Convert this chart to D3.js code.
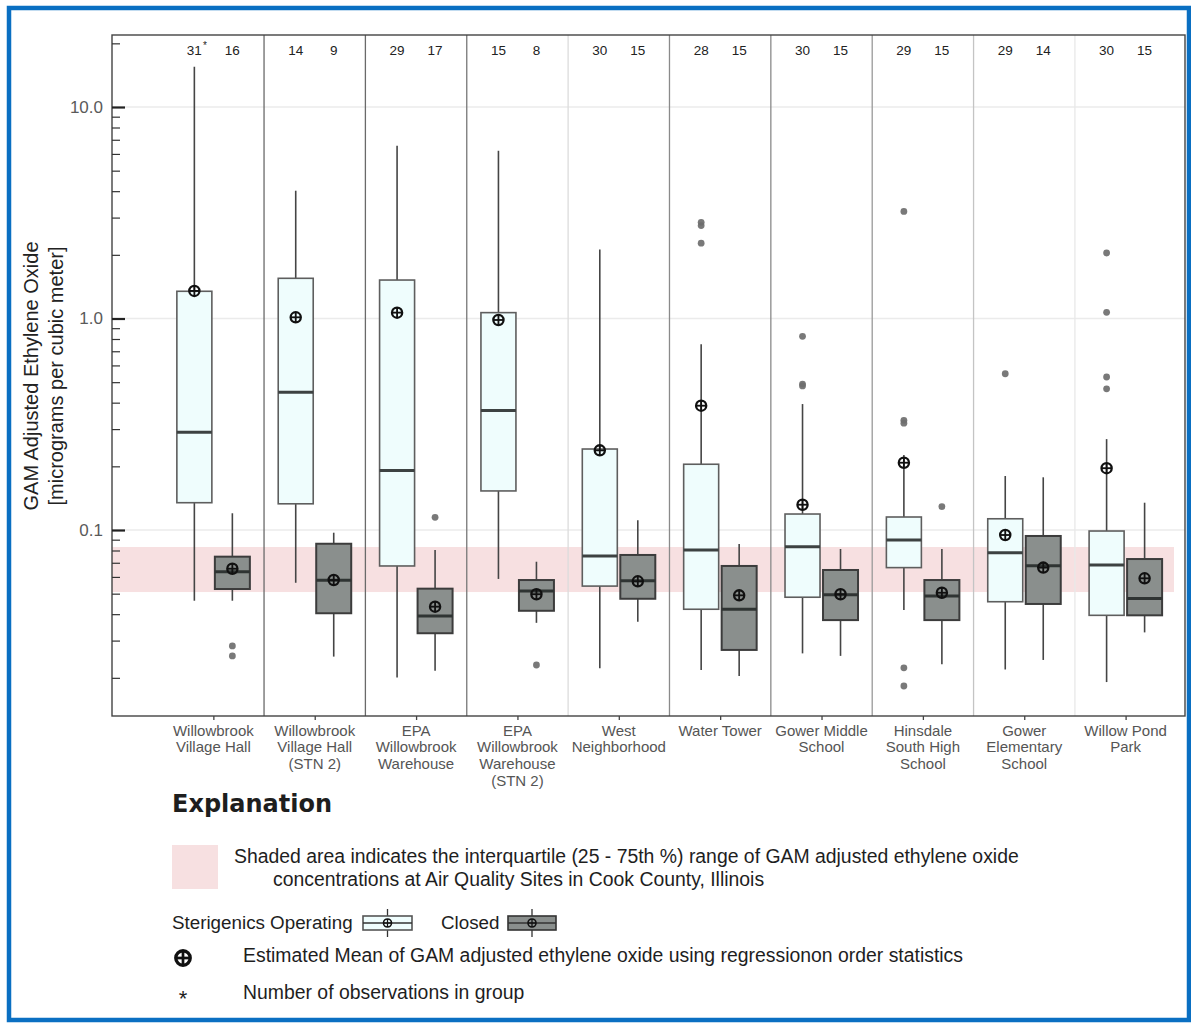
<!DOCTYPE html>
<html>
<head>
<meta charset="utf-8">
<script src="https://cdn.jsdelivr.net/npm/d3@7"></script>
<style>
  body { margin: 0; background: #fff; }
  svg { display: block; font-family: "Liberation Sans", Arial, sans-serif; }
</style>
</head>
<body>
<svg id="chart" width="1191" height="1025"></svg>
<script>
// Monitoring sites (multi-line labels)
const sites = [
  ["Willowbrook", "Village Hall"],
  ["Willowbrook", "Village Hall", "(STN 2)"],
  ["EPA", "Willowbrook", "Warehouse"],
  ["EPA", "Willowbrook", "Warehouse", "(STN 2)"],
  ["West", "Neighborhood"],
  ["Water Tower"],
  ["Gower Middle", "School"],
  ["Hinsdale", "South High", "School"],
  ["Gower", "Elementary", "School"],
  ["Willow Pond", "Park"]
];

// Number of observations per group
const countOperating = [31, 14, 29, 15, 30, 28, 30, 29, 29, 30];
const countClosed    = [16,  9, 17,  8, 15, 15, 15, 15, 14, 15];

// Sterigenics operating: box statistics (micrograms per cubic meter)
const opLow    = [0.0463, 0.0563, 0.0201, 0.0587, 0.0222, 0.0218, 0.0261, 0.0419, 0.0219, 0.0191];
const opQ1     = [0.1346, 0.133, 0.0676, 0.153, 0.0543, 0.0422, 0.0481, 0.0664, 0.0458, 0.0395];
const opMedian = [0.290, 0.448, 0.191, 0.367, 0.0753, 0.0805, 0.0834, 0.0897, 0.0781, 0.0684];
const opQ3     = [1.345, 1.549, 1.52, 1.066, 0.2415, 0.2046, 0.119, 0.1152, 0.113, 0.0989];
const opHigh   = [15.5, 4.02, 6.56, 6.21, 2.12, 0.755, 0.394, 0.226, 0.18, 0.269];
const opMean   = [1.35, 1.013, 1.066, 0.984, 0.238, 0.387, 0.1317, 0.208, 0.0947, 0.196];
const opOutliers = [[], [], [], [], [], [2.85, 2.75, 2.27], [0.824, 0.49, 0.48],
                    [3.21, 0.33, 0.32, 0.0223, 0.0183], [0.548], [2.04, 1.07, 0.529, 0.465]];

// Sterigenics closed: box statistics
const clLow    = [0.0463, 0.0252, 0.0216, 0.0364, 0.0368, 0.0204, 0.0254, 0.0232, 0.0243, 0.0328];
const clQ1     = [0.0526, 0.0404, 0.0325, 0.0415, 0.0473, 0.0271, 0.0375, 0.0375, 0.0447, 0.0395];
const clMedian = [0.0635, 0.0579, 0.0392, 0.0515, 0.0575, 0.0422, 0.0494, 0.0488, 0.0678, 0.0475];
const clQ3     = [0.0748, 0.0861, 0.0528, 0.0580, 0.0762, 0.0676, 0.0647, 0.0580, 0.0937, 0.0729];
const clHigh   = [0.120, 0.0971, 0.0804, 0.0708, 0.1111, 0.0859, 0.0813, 0.0813, 0.1775, 0.1346];
const clMean   = [0.0656, 0.058, 0.0434, 0.0497, 0.0572, 0.0491, 0.0497, 0.0505, 0.0664, 0.0591];
const clOutliers = [[0.0283, 0.0254], [], [0.1148], [0.0230], [], [], [], [0.1289], [], []];

// Cook County interquartile range (25th - 75th percentile)
const cookCountyIQR = [0.0509, 0.0831];

// Y-axis tick labels
const majorTicks = [0.1, 1, 10];

// ---------------------------------------------------------------
const svg = d3.select("#chart");
const plot = { left: 112, right: 1185, top: 35, bottom: 716 };

// outer blue frame
svg.append("rect")
  .attr("x", 9).attr("y", 8).attr("width", 1180).attr("height", 1012)
  .attr("fill", "none").attr("stroke", "#0a6fc2").attr("stroke-width", 4.5);

const x = d3.scaleLinear().domain([-1, 9.586]).range([plot.left, plot.right]);
const y = d3.scaleLog().domain([0.0132, 21.9]).range([plot.bottom, plot.top]);

const boxW = 35, boxOff = 19;

// grid lines
svg.append("g").selectAll("line").data(majorTicks).join("line")
  .attr("x1", plot.left).attr("x2", plot.right)
  .attr("y1", d => y(d)).attr("y2", d => y(d))
  .attr("stroke", "#ebebeb").attr("stroke-width", 1.5);

// shaded Cook County band
svg.append("rect")
  .attr("x", plot.left).attr("width", plot.right - 11 - plot.left)
  .attr("y", y(cookCountyIQR[1]))
  .attr("height", y(cookCountyIQR[0]) - y(cookCountyIQR[1]))
  .attr("fill", "#f7e0e1");

// panel dividers between sites
const dividerColors = ["#6a6a6a", "#6a6a6a", "#777", "#dcdcdc", "#8a8a8a", "#8a8a8a", "#999", "#c4c4c4", "#e8e8e8"];
svg.append("g").selectAll("line").data(d3.range(9)).join("line")
  .attr("x1", i => x(i + 0.5)).attr("x2", i => x(i + 0.5))
  .attr("y1", plot.top).attr("y2", plot.bottom)
  .attr("stroke", (i) => dividerColors[i]).attr("stroke-width", 1.3);

// build per-box records
const groups = [];
sites.forEach((s, i) => {
  groups.push({ i, cx: x(i) - boxOff, low: opLow[i], q1: opQ1[i], med: opMedian[i], q3: opQ3[i],
    high: opHigh[i], mean: opMean[i], out: opOutliers[i], closed: false });
  groups.push({ i, cx: x(i) + boxOff, low: clLow[i], q1: clQ1[i], med: clMedian[i], q3: clQ3[i],
    high: clHigh[i], mean: clMean[i], out: clOutliers[i], closed: true });
});

const gBox = svg.append("g");
// whiskers
gBox.selectAll(".wl").data(groups).join("line")
  .attr("x1", d => d.cx).attr("x2", d => d.cx)
  .attr("y1", d => y(d.low)).attr("y2", d => y(d.q1))
  .attr("stroke", "#454545").attr("stroke-width", 1.6);
gBox.selectAll(".wh").data(groups).join("line")
  .attr("x1", d => d.cx).attr("x2", d => d.cx)
  .attr("y1", d => y(d.q3)).attr("y2", d => y(d.high))
  .attr("stroke", "#454545").attr("stroke-width", 1.6);
// boxes
gBox.selectAll("rect").data(groups).join("rect")
  .attr("x", d => d.cx - boxW / 2).attr("width", boxW)
  .attr("y", d => y(d.q3)).attr("height", d => y(d.q1) - y(d.q3))
  .attr("fill", d => d.closed ? "#8a8f8d" : "#effdfd")
  .attr("stroke", d => d.closed ? "#3c3c3c" : "#5e5e5e")
  .attr("stroke-width", d => d.closed ? 2 : 1.6);
// medians
gBox.selectAll(".med").data(groups).join("line")
  .attr("x1", d => d.cx - boxW / 2).attr("x2", d => d.cx + boxW / 2)
  .attr("y1", d => y(d.med)).attr("y2", d => y(d.med))
  .attr("stroke", d => d.closed ? "#2f3433" : "#3d4242").attr("stroke-width", 3);

// outliers
const outPts = groups.flatMap(g => g.out.map(v => ({ cx: g.cx, v })));
svg.append("g").selectAll("circle").data(outPts).join("circle")
  .attr("cx", d => d.cx).attr("cy", d => y(d.v)).attr("r", 3.4)
  .attr("fill", "#6e6e6e").attr("opacity", 0.92);

// mean markers (circle with cross)
function meanMarker(sel, r, sw) {
  sel.append("circle").attr("r", r).attr("fill", "none").attr("stroke", "#111").attr("stroke-width", sw);
  sel.append("line").attr("x1", -r).attr("x2", r).attr("stroke", "#111").attr("stroke-width", sw * 0.8);
  sel.append("line").attr("y1", -r).attr("y2", r).attr("stroke", "#111").attr("stroke-width", sw * 0.8);
}
svg.append("g").selectAll("g").data(groups).join("g")
  .attr("transform", d => `translate(${d.cx},${y(d.mean)})`)
  .each(function () { meanMarker(d3.select(this), 5.1, 2.3); });

// plot frame
svg.append("rect")
  .attr("x", plot.left).attr("y", plot.top)
  .attr("width", plot.right - plot.left).attr("height", plot.bottom - plot.top)
  .attr("fill", "none").attr("stroke", "#444").attr("stroke-width", 1.4);

// y axis: minor ticks inside the frame
const minorTicks = [];
[0.01, 0.1, 1, 10].forEach(dec => { for (let k = 2; k <= 9; k++) minorTicks.push(k * dec); });
const minorInRange = minorTicks.filter(v => v >= y.domain()[0] && v <= y.domain()[1]);
const yMinor = svg.append("g").attr("transform", `translate(${plot.left},0)`)
  .call(d3.axisRight(y).tickValues(minorInRange).tickSize(8).tickFormat(""));
yMinor.select(".domain").remove();
yMinor.selectAll("line").attr("stroke", "#333").attr("stroke-width", 1.2);

const yMajor = svg.append("g").attr("transform", `translate(${plot.left},0)`)
  .call(d3.axisRight(y).tickValues(majorTicks).tickSize(13).tickFormat(""));
yMajor.select(".domain").remove();
yMajor.selectAll("line").attr("stroke", "#222").attr("stroke-width", 2.2);

const yLabels = svg.append("g").attr("transform", `translate(${plot.left},0)`)
  .call(d3.axisLeft(y).tickValues(majorTicks).tickSize(0).tickPadding(9).tickFormat(d3.format(".1f")));
yLabels.select(".domain").remove();
yLabels.selectAll("text").attr("font-size", 17).attr("fill", "#5a5a5a")
  .attr("font-family", '"Liberation Sans", Arial, sans-serif');

// x axis ticks
const xAxis = svg.append("g").attr("transform", `translate(0,${plot.bottom})`)
  .call(d3.axisBottom(x).tickValues(d3.range(sites.length)).tickSize(4).tickFormat(""));
xAxis.select(".domain").remove();
xAxis.selectAll("line").attr("stroke", "#444").attr("stroke-width", 1.3);

// x labels (multi-line)
const xl = svg.append("g").selectAll("text").data(sites).join("text")
  .attr("text-anchor", "middle").attr("font-size", 15).attr("fill", "#555");
xl.each(function (lines, i) {
  d3.select(this).selectAll("tspan").data(lines).join("tspan")
    .attr("x", x(i)).attr("y", (d, k) => 735.5 + k * 16.7).text(d => d);
});

// observation counts above each box
const countsG = svg.append("g").attr("font-size", 13.5).attr("fill", "#222").attr("text-anchor", "middle");
sites.forEach((s, i) => {
  countsG.append("text").attr("x", x(i) - boxOff).attr("y", 54.5).text(countOperating[i]);
  countsG.append("text").attr("x", x(i) + boxOff).attr("y", 54.5).text(countClosed[i]);
});
countsG.append("text").attr("x", x(0) - boxOff + 10.5).attr("y", 49).attr("font-size", 10).text("*");

// y axis title
const yt = svg.append("g").attr("font-size", 20).attr("fill", "#222").attr("text-anchor", "middle");
yt.append("text").attr("transform", "translate(38,376) rotate(-90)").text("GAM Adjusted Ethylene Oxide");
yt.append("text").attr("transform", "translate(63,376) rotate(-90)").text("[micrograms per cubic meter]");

// ---------------- Explanation ----------------
const lg = svg.append("g").attr("fill", "#1e1e1e");
lg.append("text").attr("x", 172).attr("y", 812)
  .attr("font-family", '"DejaVu Sans", sans-serif').attr("font-weight", "bold").attr("font-size", 24)
  .text("Explanation");

lg.append("rect").attr("x", 172).attr("y", 845).attr("width", 46).attr("height", 44).attr("fill", "#f7e0e1");
lg.append("text").attr("x", 234).attr("y", 863).attr("font-size", 19.4)
  .text("Shaded area indicates the interquartile (25 - 75th %) range of GAM adjusted ethylene oxide");
lg.append("text").attr("x", 273).attr("y", 886).attr("font-size", 19.4)
  .text("concentrations at Air Quality Sites in Cook County, Illinois");

lg.append("text").attr("x", 172).attr("y", 929).attr("font-size", 18.8).text("Sterigenics Operating");
lg.append("text").attr("x", 441).attr("y", 929).attr("font-size", 18.8).text("Closed");

function legendBox(x0, x1, fill, stroke) {
  const cy = 923, cx = (x0 + x1) / 2;
  const g = lg.append("g");
  g.append("line").attr("x1", cx).attr("x2", cx).attr("y1", 909).attr("y2", 937).attr("stroke", "#333").attr("stroke-width", 1.3);
  g.append("rect").attr("x", x0).attr("y", cy - 7).attr("width", x1 - x0).attr("height", 14)
    .attr("fill", fill).attr("stroke", stroke).attr("stroke-width", 1.6);
  g.append("line").attr("x1", x0).attr("x2", x1).attr("y1", cy).attr("y2", cy).attr("stroke", "#333").attr("stroke-width", 1.6);
  const m = g.append("g").attr("transform", `translate(${cx},${cy})`);
  meanMarker(m, 4, 1.6);
}
legendBox(363, 412, "#effdfd", "#555");
legendBox(508, 556, "#8a8f8d", "#333");

const bigMean = lg.append("g").attr("transform", "translate(183,958)");
meanMarker(bigMean, 7.2, 3.4);
lg.append("text").attr("x", 243).attr("y", 962).attr("font-size", 19.4)
  .text("Estimated Mean of GAM adjusted ethylene oxide using regressionon order statistics");

lg.append("text").attr("x", 183).attr("y", 1006).attr("font-size", 22).attr("text-anchor", "middle").text("*");
lg.append("text").attr("x", 243).attr("y", 999).attr("font-size", 19.4).text("Number of observations in group");
</script>
</body>
</html>
